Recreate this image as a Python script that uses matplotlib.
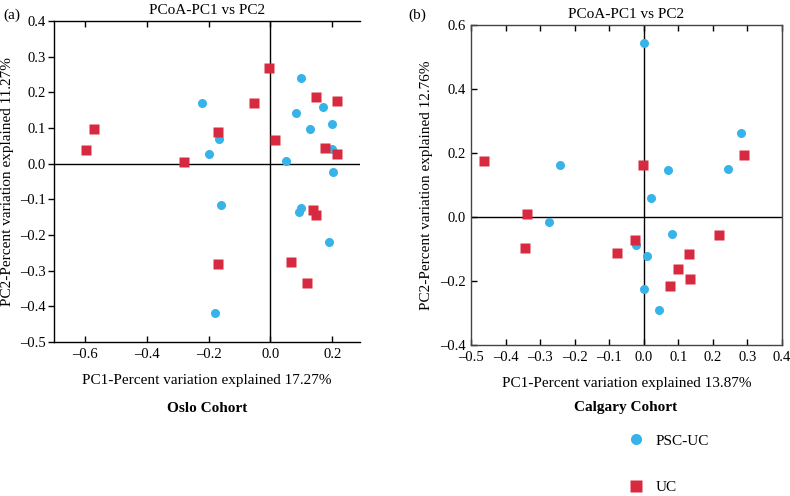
import matplotlib
matplotlib.use("Agg")
import matplotlib.pyplot as plt
from matplotlib.lines import Line2D

plt.rcParams['font.family'] = ['Liberation Serif', 'DejaVu Serif']
plt.rcParams['axes.unicode_minus'] = True

BLUE = '#36b3e8'
RED = '#d72a40'

# Oslo cohort
oslo_psc_x = [-0.222, -0.197, -0.165, 0.100, 0.082, 0.128, 0.170, 0.199, 0.199, 0.051, 0.202,
              -0.160, 0.099, 0.094, 0.190, -0.179]
oslo_psc_y = [0.170, 0.026, 0.069, 0.241, 0.141, 0.096, 0.160, 0.110, 0.041, 0.008, -0.022,
              -0.115, -0.123, -0.135, -0.221, -0.418]
oslo_uc_x = [-0.598, -0.569, -0.279, -0.168, -0.053, -0.004, 0.015, 0.147, 0.215, 0.176, 0.216,
             -0.171, 0.137, 0.149, 0.068, 0.118]
oslo_uc_y = [0.037, 0.098, 0.004, 0.088, 0.170, 0.268, 0.067, 0.187, 0.176, 0.044, 0.028,
             -0.282, -0.130, -0.145, -0.277, -0.334]

# Calgary cohort
cal_psc_x = [0.001, 0.281, -0.243, 0.069, 0.245, 0.020, -0.273, 0.082, -0.023, 0.009, 0.002, 0.045]
cal_psc_y = [0.543, 0.262, 0.163, 0.146, 0.151, 0.059, -0.016, -0.052, -0.086, -0.122, -0.226, -0.292]
cal_uc_x = [-0.461, -0.002, 0.291, -0.337, -0.344, -0.077, -0.024, 0.219, 0.130, 0.100, 0.133, 0.077]
cal_uc_y = [0.174, 0.161, 0.195, 0.010, -0.096, -0.113, -0.071, -0.055, -0.116, -0.162, -0.193, -0.216]

oslo_xticks = [-0.6, -0.4, -0.2, 0.0, 0.2]
oslo_yticks = [-0.5, -0.4, -0.3, -0.2, -0.1, 0.0, 0.1, 0.2, 0.3, 0.4]
cal_xticks = [-0.5, -0.4, -0.3, -0.2, -0.1, 0.0, 0.1, 0.2, 0.3, 0.4]
cal_yticks = [-0.4, -0.2, 0.0, 0.2, 0.4, 0.6]

fig = plt.figure(figsize=(7.9, 4.96), dpi=100)
ax1 = fig.add_axes([54/790, 1-342/496, 306/790, 321/496])
ax2 = fig.add_axes([471/790, 1-345/496, 311/790, 320/496])

def fmt(v):
    s = f"{v:.1f}"
    return s.replace('-', '\u2013')

for ax, px, py, ux, uy, xt, yt, xl, yl, ylab, xlab in [
    (ax1, oslo_psc_x, oslo_psc_y, oslo_uc_x, oslo_uc_y, oslo_xticks, oslo_yticks,
     (-0.7, 0.29), (-0.5, 0.4), 'PC2-Percent variation explained 11.27%',
     'PC1-Percent variation explained 17.27%'),
    (ax2, cal_psc_x, cal_psc_y, cal_uc_x, cal_uc_y, cal_xticks, cal_yticks,
     (-0.5, 0.4), (-0.4, 0.6), 'PC2-Percent variation explained 12.76%',
     'PC1-Percent variation explained 13.87%')]:
    ax.axhline(0, color='black', lw=1.0, zorder=1)
    ax.axvline(0, color='black', lw=1.0, zorder=1)
    ax.plot(px, py, 'o', color=BLUE, ms=6.5, mec='none', zorder=3)
    ax.plot(ux, uy, 's', color=RED, ms=6.8, mec='none', zorder=3)
    ax.set_xlim(*xl)
    ax.set_ylim(*yl)
    ax.set_xticks(xt)
    ax.set_xticklabels([fmt(v) for v in xt], fontsize=10.5)
    ax.set_yticks(yt)
    ax.set_yticklabels([fmt(v) for v in yt], fontsize=10.5)
    ax.tick_params(axis='x', direction='in', top=True, bottom=True, length=4, width=1, pad=4)
    ax.set_title('PCoA-PC1 vs PC2', fontsize=11, pad=5)
    ax.set_ylabel(ylab, fontsize=11)
    ax.set_xlabel(xlab, fontsize=11, labelpad=10)
    for s in ax.spines.values():
        s.set_linewidth(1.0)

ax1.tick_params(axis='y', direction='out', length=4, width=1, pad=2)
ax1.spines['right'].set_visible(False)
ax2.tick_params(axis='y', direction='in', length=4, width=1, pad=4)
for s in ax2.spines.values():
    s.set_color('#444444')

# y-label positions (figure pixels -> axes coords)
ax1.yaxis.set_label_coords((7.5 - 54) / 306, 0.5)
ax2.yaxis.set_label_coords((427 - 471) / 311, 0.5)
ax1.yaxis.label.set_va('center')
ax2.yaxis.label.set_va('center')

fig.text(207/790, 1-408/496, 'Oslo Cohort', ha='center', va='center', fontsize=11, fontweight='bold')
fig.text(626/790, 1-408/496, 'Calgary Cohort', ha='center', va='center', fontsize=11, fontweight='bold')
fig.text(3/790, 1-15/496, '(a)', ha='left', va='center', fontsize=11)
fig.text(408/790, 1-15/496, '(b)', ha='left', va='center', fontsize=11)

handles = [Line2D([], [], marker='o', ls='none', color=BLUE, ms=8, mec='none'),
           Line2D([], [], marker='s', ls='none', color=RED, ms=8, mec='none')]
fig.legend(handles, ['PSC-UC', 'UC'], loc='upper left', bbox_to_anchor=(627/790, 1-434/496),
           frameon=False, fontsize=11, labelspacing=2.15, handletextpad=0.65, handlelength=1.2,
           borderpad=0, borderaxespad=0)

fig.savefig('out.png', dpi=100)
